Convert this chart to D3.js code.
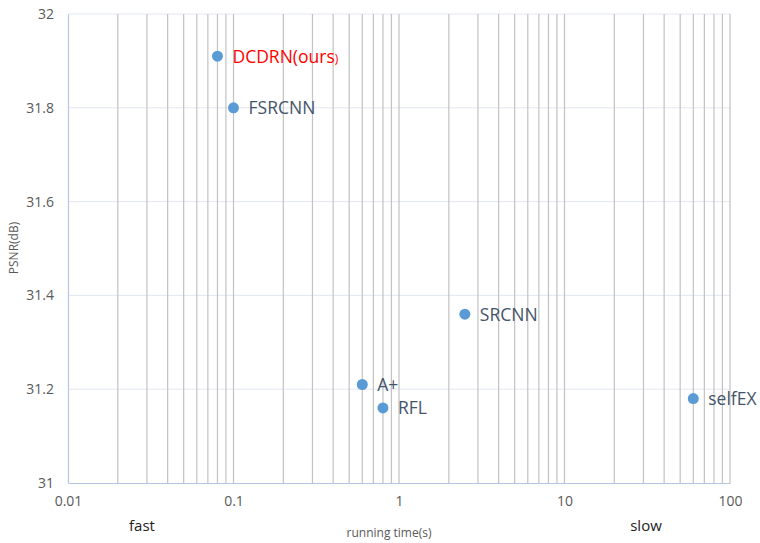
<!DOCTYPE html>
<html>
<head>
<meta charset="utf-8">
<script src="https://cdn.jsdelivr.net/npm/d3@7"></script>
<style>
  body { margin: 0; background: #fff; }
  svg { display: block; }
</style>
</head>
<body>
<svg id="chart" width="760" height="543"></svg>
<script>
// Running time (s) vs PSNR (dB) for super-resolution methods
const methods = ["DCDRN(ours", "FSRCNN", "SRCNN", "A+", "RFL", "selfEX"];
const runTimes = [0.08, 0.1, 2.5, 0.6, 0.8, 60];
const psnrValues = [31.91, 31.8, 31.36, 31.21, 31.16, 31.18];
const xTickValues = [0.01, 0.1, 1, 10, 100];
const xTickLabels = ["0.01", "0.1", "1", "10", "100"];
const yTickValues = [31, 31.2, 31.4, 31.6, 31.8, 32];
const yTickLabels = ["31", "31.2", "31.4", "31.6", "31.8", "32"];

const svg = d3.select("#chart");
const plotLeft = 68, plotRight = 730, plotTop = 14, plotBottom = 483;

const x = d3.scaleLog().domain([0.01, 100]).range([plotLeft, plotRight]);
const y = d3.scaleLinear().domain([31, 32]).range([plotBottom, plotTop]);

const font = "'Open Sans', 'Liberation Sans', sans-serif";

// horizontal gridlines
svg.append("g")
  .selectAll("line")
  .data(yTickValues.slice(1))
  .join("line")
  .attr("x1", plotLeft).attr("x2", plotRight)
  .attr("y1", d => y(d)).attr("y2", d => y(d))
  .attr("stroke", "#e2e7f0").attr("stroke-width", 1);

// vertical log gridlines (1..9 per decade)
const minorTicks = [];
for (let e = -2; e < 2; e++) {
  for (let m = 1; m <= 9; m++) minorTicks.push(m * Math.pow(10, e));
}
minorTicks.push(100);
svg.append("g")
  .selectAll("line")
  .data(minorTicks.filter(d => d > 0.0100001))
  .join("line")
  .attr("x1", d => x(d)).attr("x2", d => x(d))
  .attr("y1", plotTop).attr("y2", plotBottom)
  .attr("stroke", "#c2c2c2").attr("stroke-width", 1.2);

// axes
const xAxis = d3.axisBottom(x).tickValues(xTickValues)
  .tickFormat((d, i) => xTickLabels[i]).tickSize(0).tickPadding(13);
const gx = svg.append("g").attr("transform", `translate(0,${plotBottom})`).call(xAxis);
gx.select(".domain").attr("stroke", "#b4c5e0").attr("stroke-width", 1.2);
gx.selectAll("text").attr("fill", "#595959").style("font-family", font).style("font-size", "14px");

const yAxis = d3.axisLeft(y).tickValues(yTickValues)
  .tickFormat((d, i) => yTickLabels[i]).tickSize(0).tickPadding(14);
const gy = svg.append("g").attr("transform", `translate(${plotLeft},0)`).call(yAxis);
gy.select(".domain").attr("stroke", "#b4c5e0").attr("stroke-width", 1.2);
gy.selectAll("text").attr("fill", "#595959").style("font-family", font).style("font-size", "14px");

// axis titles
svg.append("text").attr("x", 389).attr("y", 537).attr("text-anchor", "middle")
  .attr("fill", "#595959").style("font-family", font).style("font-size", "12px")
  .text("running time(s)");
svg.append("text").attr("transform", "translate(18,248) rotate(-90)")
  .attr("text-anchor", "middle").attr("fill", "#595959")
  .style("font-family", font).style("font-size", "12px").text("PSNR(dB)");
svg.append("text").attr("x", 142).attr("y", 531).attr("text-anchor", "middle")
  .attr("fill", "#222").style("font-family", font).style("font-size", "15px").text("fast");
svg.append("text").attr("x", 646).attr("y", 531).attr("text-anchor", "middle")
  .attr("fill", "#222").style("font-family", font).style("font-size", "15px").text("slow");

// points
const data = methods.map((m, i) => ({ name: m, t: runTimes[i], p: psnrValues[i] }));
svg.append("g").selectAll("circle").data(data).join("circle")
  .attr("cx", d => x(d.t)).attr("cy", d => y(d.p)).attr("r", 5.5)
  .attr("fill", "#5b9bd5");

// labels
const labels = svg.append("g").selectAll("text").data(data).join("text")
  .attr("x", d => x(d.t) + 15).attr("y", d => y(d.p) + 6.5)
  .attr("fill", (d, i) => i === 0 ? "#ff0000" : "#44546a")
  .style("font-family", font).style("font-size", "17.5px")
  .text(d => d.name);
labels.filter((d, i) => i === 0).append("tspan").style("font-size", "12px").text(")");
</script>
</body>
</html>
